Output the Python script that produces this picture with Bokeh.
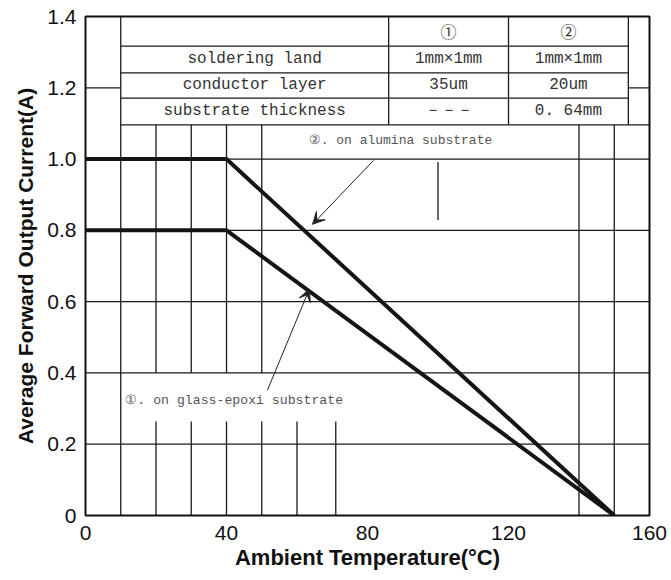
from bokeh.plotting import figure
from bokeh.models import (FixedTicker, Title, Arrow, VeeHead, Range1d, CustomJSTickFormatter)
from bokeh.core.properties import value
from bokeh.embed import file_html
from bokeh.resources import INLINE

# ---- data ----
temp = [0, 40, 150]
current_glass = [0.8, 0.8, 0.0]      # (1) on glass-epoxi substrate
current_alumina = [1.0, 1.0, 0.0]    # (2) on alumina substrate

x_ticks = [0, 40, 80, 120, 160]
y_ticks = [0, 0.2, 0.4, 0.6, 0.8, 1.0, 1.2, 1.4]

# table (drawn inside the plot)
table_cols = [10, 86, 120, 154]
table_rows = [1.4, 1.317, 1.242, 1.171, 1.096]
row_labels = ["soldering land", "conductor layer", "substrate thickness"]
col_headers = ["①", "②"]
col1_values = ["1mm×1mm", "35um", "－－－"]
col2_values = ["1mm×1mm", "20um", "0. 64mm"]

label_alumina = "②. on alumina substrate"
label_glass = "①. on glass-epoxi substrate"

# grid pieces of the scanned datasheet
full_h = [0.2, 0.4, 0.6, 0.8]
mid_v = [20, 30, 40, 50]
low_v = [20, 30, 40, 50, 60, 71]
low_v_top = 0.264
right_v = [140, 150]

p = figure(width=671, height=580, x_range=Range1d(0, 160), y_range=Range1d(0, 1.4),
           output_backend="svg", toolbar_location=None,
           min_border_left=85, min_border_right=22, min_border_top=16, min_border_bottom=65)
p.background_fill_color = "white"
p.border_fill_color = "white"
p.outline_line_color = "#111111"
p.outline_line_width = 2
p.xgrid.visible = False
p.ygrid.visible = False

# axes
for ax in (p.xaxis, p.yaxis):
    ax.axis_line_color = None
    ax.major_tick_line_color = None
    ax.minor_tick_line_color = None
    ax.major_tick_out = 0
    ax.major_tick_in = 0
    ax.major_label_text_font = "Liberation Sans"
    ax.major_label_text_font_size = "21px"
    ax.major_label_text_color = "#111111"
p.xaxis.ticker = FixedTicker(ticks=x_ticks)
p.yaxis.ticker = FixedTicker(ticks=y_ticks)
p.yaxis.formatter = CustomJSTickFormatter(code="return tick == 0 ? '0' : tick.toFixed(1);")
p.xaxis.major_label_standoff = 10
p.yaxis.major_label_standoff = 9
p.xaxis.axis_label = "Ambient Temperature(°C)"
p.xaxis.axis_label_text_font = "Liberation Sans"
p.xaxis.axis_label_text_font_style = "bold"
p.xaxis.axis_label_text_font_size = "22px"
p.xaxis.axis_label_text_color = "#111111"
p.xaxis.axis_label_standoff = 2

ytitle = Title(text="Average Forward Output Current(A)", align="center",
               text_font="Liberation Sans", text_font_style="bold",
               text_font_size="21px", text_color="#111111", standoff=16)
p.add_layout(ytitle, "left")

# ---- grid segments ----
gc = "#1a1a1a"
gw = 1.3
x0, y0, x1, y1 = [], [], [], []
def seg(a, b, c, d):
    x0.append(a); y0.append(b); x1.append(c); y1.append(d)

for yv in full_h:
    seg(0, yv, 160, yv)
seg(40, 1.0, 160, 1.0)
seg(0, 1.2, table_cols[0], 1.2)
seg(table_cols[-1], 1.2, 160, 1.2)
for r in table_rows[1:-1]:
    seg(table_cols[0], r, table_cols[-1], r)
seg(table_cols[0], table_rows[-1], 160, table_rows[-1])
seg(10, 0, 10, 1.4)
for c in table_cols[1:]:
    seg(c, table_rows[-1], c, 1.4)
for xv in mid_v:
    seg(xv, 0.4, xv, table_rows[-1])
for xv in low_v:
    seg(xv, 0, xv, low_v_top)
for xv in right_v:
    seg(xv, 0, xv, table_rows[-1])
seg(100, 0.829, 100, 0.992)

p.segment(x0=x0, y0=y0, x1=x1, y1=y1, line_color=gc, line_width=gw)

# ---- series ----
p.line(temp, current_alumina, line_color="#151515", line_width=4)
p.line(temp, current_glass, line_color="#151515", line_width=4)

# ---- table text ----
row_c = [(table_rows[i] + table_rows[i + 1]) / 2 for i in range(len(table_rows) - 1)]
col_c = [(table_cols[i] + table_cols[i + 1]) / 2 for i in range(len(table_cols) - 1)]
p.text(x=col_c[1:], y=[row_c[0]] * len(col_headers), text=col_headers,
       text_align="center", text_baseline="middle",
       text_font=value("Noto Sans CJK SC"), text_font_size="16px", text_color="#333333")
tx, ty, tt = [], [], []
for i in range(3):
    tx.append(col_c[0]); ty.append(row_c[i + 1]); tt.append(row_labels[i])
    tx.append(col_c[1]); ty.append(row_c[i + 1]); tt.append(col1_values[i])
    tx.append(col_c[2]); ty.append(row_c[i + 1]); tt.append(col2_values[i])
p.text(x=tx, y=ty, text=tt, text_align="center", text_baseline="middle",
       text_font=value("Liberation Mono"), text_font_size="16px", text_color="#333333")

# ---- annotations ----
p.text(x=[63.3], y=[1.052], text=[label_alumina], text_align="left", text_baseline="middle",
       text_font=value("Liberation Mono"), text_font_size="13px", text_color="#555555")
p.text(x=[11.3], y=[0.323], text=[label_glass], text_align="left", text_baseline="middle",
       text_font=value("Liberation Mono"), text_font_size="13.2px", text_color="#555555")

p.add_layout(Arrow(end=VeeHead(size=12, fill_color="#222222", line_color="#222222", line_width=1),
                   x_start=81.7, y_start=0.996, x_end=64.4, y_end=0.817,
                   line_color="#222222", line_width=1))
p.add_layout(Arrow(end=VeeHead(size=12, fill_color="#222222", line_color="#222222", line_width=1),
                   x_start=51.6, y_start=0.351, x_end=63.5, y_end=0.635,
                   line_color="#222222", line_width=1))

open("out.html", "w").write(file_html(p, INLINE))
